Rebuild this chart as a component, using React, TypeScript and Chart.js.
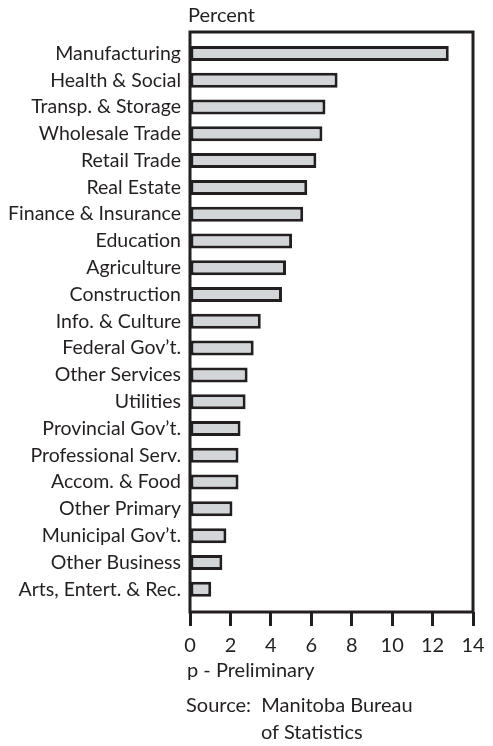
import React, { useEffect, useRef } from "react";
import { Chart, registerables } from "chart.js";

Chart.register(...registerables);

const categories = [
  "Manufacturing",
  "Health & Social",
  "Transp. & Storage",
  "Wholesale Trade",
  "Retail Trade",
  "Real Estate",
  "Finance & Insurance",
  "Education",
  "Agriculture",
  "Construction",
  "Info. & Culture",
  "Federal Gov’t.",
  "Other Services",
  "Utilities",
  "Provincial Gov’t.",
  "Professional Serv.",
  "Accom. & Food",
  "Other Primary",
  "Municipal Gov’t.",
  "Other Business",
  "Arts, Entert. & Rec.",
];

const values = [
  12.8, 7.3, 6.7, 6.55, 6.25, 5.8, 5.6, 5.05, 4.75, 4.55, 3.5, 3.15, 2.85, 2.75,
  2.5, 2.4, 2.4, 2.1, 1.8, 1.6, 1.05,
];

const xTicks = [0, 2, 4, 6, 8, 10, 12, 14];

const INK = "#231f20";
const FONT = "Lato, 'Open Sans', sans-serif";

const framePlugin = {
  id: "frame",
  afterDatasetsDraw(chart: any) {
    const { ctx, chartArea } = chart;
    ctx.save();
    ctx.strokeStyle = INK;
    ctx.lineWidth = 3;
    ctx.strokeRect(
      chartArea.left,
      chartArea.top,
      chartArea.right - chartArea.left,
      chartArea.bottom - chartArea.top
    );
    ctx.restore();
  },
};

export default function App() {
  const ref = useRef<HTMLCanvasElement | null>(null);

  useEffect(() => {
    if (!ref.current) return;
    const chart = new Chart(ref.current, {
      type: "bar",
      data: {
        datasets: [
          {
            data: values.map((v, i) => ({ x: v, y: i })),
            backgroundColor: "#d3d6d8",
            borderColor: INK,
            borderWidth: 3,
            borderSkipped: false,
            barPercentage: 0.56,
            categoryPercentage: 1,
          },
        ],
      },
      options: {
        indexAxis: "y",
        animation: false,
        responsive: false,
        maintainAspectRatio: false,
        layout: { padding: { left: 0, right: 20, top: 32, bottom: 94 } },
        plugins: { legend: { display: false }, tooltip: { enabled: false } },
        scales: {
          y: {
            type: "linear",
            reverse: true,
            offset: false,
            min: -0.8,
            max: 20.85,
            afterBuildTicks: (axis: any) => {
              axis.ticks = categories.map((_, i) => ({ value: i }));
            },
            afterFit: (scale: any) => {
              scale.width = 190;
            },
            grid: { display: false, drawTicks: false, offset: false },
            border: { display: false },
            ticks: {
              autoSkip: false,
              padding: 9,
              color: INK,
              font: { family: FONT, size: 19.5 },
              callback: (v: any) => categories[v] ?? "",
            },
          },
          x: {
            type: "linear",
            min: 0,
            max: 14,
            afterBuildTicks: (axis: any) => {
              axis.ticks = xTicks.map((v) => ({ value: v }));
            },
            afterFit: (scale: any) => {
              scale.height = 40;
            },
            grid: {
              drawOnChartArea: false,
              drawTicks: true,
              tickLength: 14,
              tickWidth: 3,
              tickColor: INK,
            },
            border: { display: false },
            ticks: {
              padding: 8,
              color: INK,
              font: { family: FONT, size: 20 },
            },
          },
        },
      },
      plugins: [framePlugin],
    } as any);
    return () => chart.destroy();
  }, []);

  const textStyle: React.CSSProperties = {
    position: "absolute",
    fontFamily: FONT,
    fontSize: 20,
    lineHeight: "24px",
    color: INK,
    whiteSpace: "nowrap",
  };

  return (
    <div style={{ position: "fixed", left: 0, top: 0, width: 493, height: 746, background: "#fff" }}>
      <canvas ref={ref} width={493} height={746} style={{ display: "block" }} />
      <div style={{ ...textStyle, left: 188, top: 2 }}>Percent</div>
      <div style={{ ...textStyle, left: 187, top: 657 }}>p - Preliminary</div>
      <div style={{ ...textStyle, left: 186, top: 692 }}>Source:&nbsp; Manitoba Bureau</div>
      <div style={{ ...textStyle, left: 261, top: 719 }}>of Statistics</div>
    </div>
  );
}
